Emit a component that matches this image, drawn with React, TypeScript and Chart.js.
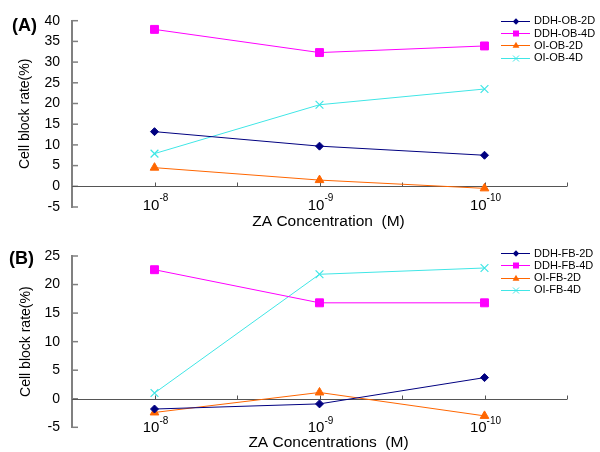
import React, { useEffect, useRef } from 'react';
import { Chart, registerables } from 'chart.js';

Chart.register(...registerables);

// ---- data ----
const concentrationExponents = ['-8', '-9', '-10'];

const seriesNamesA = ['DDH-OB-2D', 'DDH-OB-4D', 'OI-OB-2D', 'OI-OB-4D'];
const ddhOb2d = [13.2, 9.7, 7.5];
const ddhOb4d = [37.9, 32.3, 33.9];
const oiOb2d = [4.5, 1.5, -0.5];
const oiOb4d = [7.9, 19.7, 23.5];

const seriesNamesB = ['DDH-FB-2D', 'DDH-FB-4D', 'OI-FB-2D', 'OI-FB-4D'];
const ddhFb2d = [-1.8, -0.9, 3.7];
const ddhFb4d = [22.6, 16.8, 16.8];
const oiFb2d = [-2.4, 1.1, -3.0];
const oiFb4d = [1.0, 21.8, 22.9];

const yRangeA = [-5, 40];
const yRangeB = [-5, 25];
const yStep = 5;

// ---- styles ----
const seriesColors = ['#000080', '#FF00FF', '#FF6600', '#40E6E6'];
const seriesPointStyles = ['rectRot', 'rect', 'triangle', 'crossRot'];
const seriesPointRadii = [4, 5.6, 5, 5.5];
const FONT = "'Liberation Sans', Arial, sans-serif";

function drawMarker(ctx: CanvasRenderingContext2D, style: string, cx: number, cy: number, color: string) {
  ctx.save();
  ctx.fillStyle = color;
  ctx.strokeStyle = color;
  ctx.lineWidth = 1;
  ctx.beginPath();
  if (style === 'rectRot') {
    const r = 3.2;
    ctx.moveTo(cx, cy - r);
    ctx.lineTo(cx + r, cy);
    ctx.lineTo(cx, cy + r);
    ctx.lineTo(cx - r, cy);
    ctx.closePath();
    ctx.fill();
  } else if (style === 'rect') {
    const s = 3;
    ctx.rect(cx - s, cy - s, 2 * s, 2 * s);
    ctx.fill();
  } else if (style === 'triangle') {
    const r = 3.8;
    ctx.moveTo(cx, cy - r);
    ctx.lineTo(cx + r * 0.9, cy + r * 0.6);
    ctx.lineTo(cx - r * 0.9, cy + r * 0.6);
    ctx.closePath();
    ctx.fill();
  } else {
    const s = 3;
    ctx.moveTo(cx - s, cy - s);
    ctx.lineTo(cx + s, cy + s);
    ctx.moveTo(cx + s, cy - s);
    ctx.lineTo(cx - s, cy + s);
    ctx.stroke();
  }
  ctx.restore();
}

type PanelProps = {
  top: number;
  height: number;
  padTop: number;
  padBottom: number;
  yRange: number[];
  names: string[];
  values: number[][];
  panelLabel: string;
  panelLabelX: number;
  panelLabelY: number;
  xTitle: string;
  xLabelY: number;
  xTitleY: number;
  yTitleX: number;
  legendY0: number;
};

function Panel(p: PanelProps) {
  const ref = useRef<HTMLCanvasElement>(null);
  useEffect(() => {
    if (!ref.current) return;
    const decor = {
      id: 'decor',
      beforeDatasetsDraw(chart: any) {
        const { ctx, chartArea: ca, scales } = chart;
        const x = scales.x, y = scales.y;
        ctx.save();
        // inward y ticks
        ctx.strokeStyle = '#808080';
        ctx.lineWidth = 1.5;
        y.ticks.forEach((t: any) => {
          const py = y.getPixelForValue(t.value);
          ctx.beginPath();
          ctx.moveTo(ca.left, py);
          ctx.lineTo(ca.left + 6, py);
          ctx.stroke();
        });
        // zero line
        const y0 = Math.round(y.getPixelForValue(0)) + 0.5;
        ctx.strokeStyle = '#555555';
        ctx.lineWidth = 1;
        ctx.beginPath();
        ctx.moveTo(ca.left, y0);
        ctx.lineTo(ca.right, y0);
        ctx.stroke();
        const half = (x.getPixelForValue(1) - x.getPixelForValue(0)) / 2;
        for (let i = 0; i < concentrationExponents.length; i++) {
          const c = x.getPixelForValue(i);
          [c, c + half].forEach((xx) => {
            const px = Math.round(xx) + 0.5;
            ctx.beginPath();
            ctx.moveTo(px, y0);
            ctx.lineTo(px, y0 - 4);
            ctx.stroke();
          });
        }
        ctx.restore();
      },
      afterDraw(chart: any) {
        const { ctx, chartArea: ca, scales } = chart;
        const x = scales.x;
        ctx.save();
        ctx.fillStyle = '#000';
        ctx.textBaseline = 'middle';
        // x tick labels 10^exp
        concentrationExponents.forEach((e, i) => {
          const c = x.getPixelForValue(i);
          ctx.font = `15px ${FONT}`;
          const w1 = ctx.measureText('10').width;
          ctx.font = `10px ${FONT}`;
          const w2 = ctx.measureText(e).width;
          const start = c + 1 - (w1 + w2) / 2;
          ctx.textAlign = 'left';
          ctx.font = `15px ${FONT}`;
          ctx.fillText('10', start, p.xLabelY);
          ctx.font = `10px ${FONT}`;
          ctx.fillText(e, start + w1, p.xLabelY - 7);
        });
        // x title
        ctx.font = `15.5px ${FONT}`;
        ctx.textAlign = 'center';
        ctx.fillText(p.xTitle, (ca.left + ca.right) / 2 + 9, p.xTitleY);
        // y title
        ctx.font = `14px ${FONT}`;
        ctx.save();
        ctx.translate(p.yTitleX, (ca.top + ca.bottom) / 2);
        ctx.rotate(-Math.PI / 2);
        ctx.fillText('Cell block rate(%)', 0, 0);
        ctx.restore();
        // panel label
        ctx.font = `bold 18px ${FONT}`;
        ctx.textAlign = 'left';
        ctx.fillText(p.panelLabel, p.panelLabelX, p.panelLabelY);
        // legend
        p.names.forEach((n, i) => {
          const ly = p.legendY0 + i * 12.3;
          ctx.strokeStyle = seriesColors[i];
          ctx.lineWidth = 1;
          ctx.beginPath();
          ctx.moveTo(501, Math.round(ly) + 0.5);
          ctx.lineTo(530, Math.round(ly) + 0.5);
          ctx.stroke();
          drawMarker(ctx, seriesPointStyles[i], 516, Math.round(ly) + 0.5, seriesColors[i]);
          ctx.fillStyle = '#000';
          ctx.font = `11px ${FONT}`;
          ctx.textAlign = 'left';
          ctx.fillText(n, 534, ly + 0.5);
        });
        ctx.restore();
      },
    };
    const chart = new Chart(ref.current, {
      type: 'line',
      data: {
        labels: concentrationExponents.map((e) => '10^' + e),
        datasets: p.names.map((n, i) => ({
          label: n,
          data: p.values[i],
          borderColor: seriesColors[i],
          backgroundColor: seriesColors[i],
          borderWidth: 1,
          pointStyle: seriesPointStyles[i] as any,
          pointRadius: seriesPointRadii[i],
          pointBorderWidth: seriesPointStyles[i] === 'crossRot' ? 1.2 : 1,
          tension: 0,
        })),
      },
      options: {
        responsive: false,
        animation: false,
        devicePixelRatio: 1,
        layout: { padding: { left: 0, right: 33, top: p.padTop, bottom: p.padBottom } },
        plugins: { legend: { display: false }, tooltip: { enabled: false } },
        scales: {
          x: { type: 'category', offset: true, display: false },
          y: {
            min: p.yRange[0],
            max: p.yRange[1],
            ticks: { stepSize: yStep, padding: 12, color: '#000', font: { family: FONT, size: 14 } },
            grid: { drawOnChartArea: false, drawTicks: false },
            border: { color: '#808080', width: 2 },
            afterFit: (s: any) => { s.width = 72; },
          },
        },
      },
      plugins: [decor],
    } as any);
    return () => chart.destroy();
  }, []);
  return (
    <canvas
      ref={ref}
      width={600}
      height={p.height}
      style={{ position: 'absolute', left: 0, top: p.top, width: 600, height: p.height }}
    />
  );
}

export default function App() {
  return (
    <div style={{ position: 'absolute', left: 0, top: 0, width: 600, height: 452, background: '#fff' }}>
      <Panel
        top={0}
        height={232}
        padTop={20.7}
        padBottom={25}
        yRange={yRangeA}
        names={seriesNamesA}
        values={[ddhOb2d, ddhOb4d, oiOb2d, oiOb4d]}
        panelLabel="(A)"
        panelLabelX={12}
        panelLabelY={26}
        xTitle="ZA Concentration  (M)"
        xLabelY={205.5}
        xTitleY={222}
        yTitleX={25.5}
        legendY0={20.7}
      />
      <Panel
        top={226}
        height={226}
        padTop={30}
        padBottom={24.7}
        yRange={yRangeB}
        names={seriesNamesB}
        values={[ddhFb2d, ddhFb4d, oiFb2d, oiFb4d]}
        panelLabel="(B)"
        panelLabelX={9}
        panelLabelY={33}
        xTitle="ZA Concentrations  (M)"
        xLabelY={202}
        xTitleY={217}
        yTitleX={26.5}
        legendY0={27}
      />
    </div>
  );
}
